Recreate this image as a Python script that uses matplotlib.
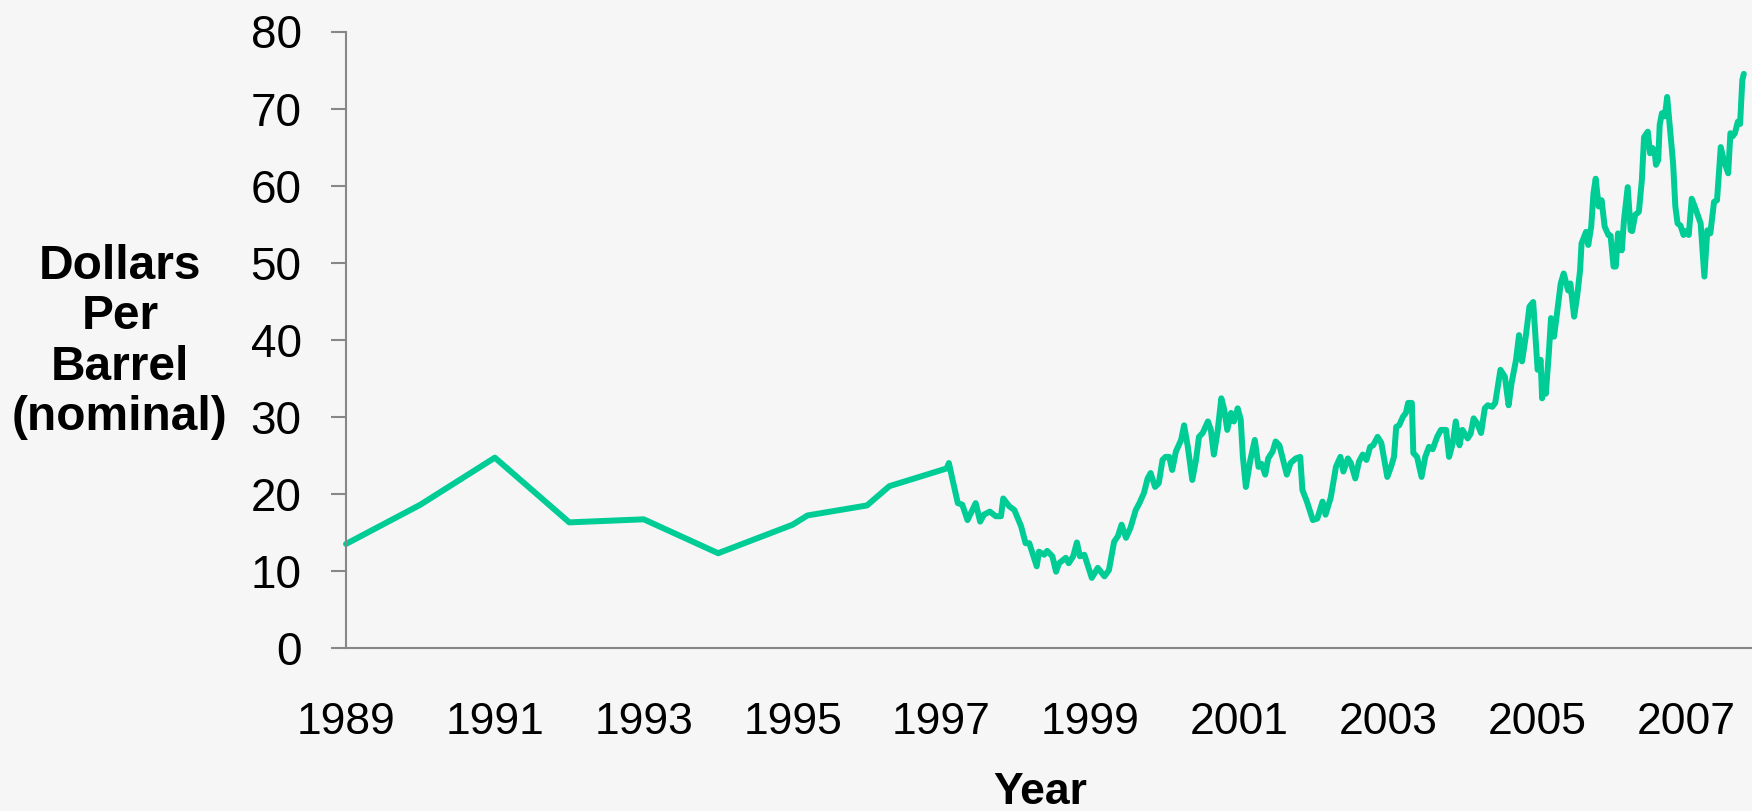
import matplotlib
matplotlib.use("Agg")
import matplotlib.pyplot as plt

# yearly points 1989-1996, then roughly weekly readings from 1997
annual_years = [1989.0, 1990.0, 1991.0, 1992.0, 1993.0, 1994.0, 1995.0, 1995.2, 1996.0, 1996.3]
annual_price = [13.5, 18.6, 24.7, 16.3, 16.7, 12.3, 16.0, 17.2, 18.5, 21.0]

weekly_years = [
    1997.07, 1997.10, 1997.15, 1997.22, 1997.28, 1997.35, 1997.46, 1997.52, 1997.57, 1997.65,
    1997.73, 1997.80, 1997.83, 1997.91, 1997.98, 1998.07, 1998.13, 1998.18, 1998.28, 1998.31,
    1998.38, 1998.42, 1998.49, 1998.54, 1998.58, 1998.67, 1998.71, 1998.77, 1998.82, 1998.86,
    1998.92, 1998.97, 1999.02, 1999.10, 1999.19, 1999.25, 1999.32, 1999.37, 1999.42, 1999.48,
    1999.54, 1999.61, 1999.66, 1999.72, 1999.77, 1999.81, 1999.87, 1999.92, 1999.97, 2000.01,
    2000.06, 2000.10, 2000.15, 2000.22, 2000.26, 2000.31, 2000.37, 2000.42, 2000.46, 2000.51,
    2000.58, 2000.62, 2000.66, 2000.71, 2000.76, 2000.80, 2000.84, 2000.89, 2000.93, 2000.98,
    2001.02, 2001.05, 2001.09, 2001.15, 2001.21, 2001.26, 2001.30, 2001.35, 2001.39, 2001.45,
    2001.49, 2001.54, 2001.60, 2001.64, 2001.69, 2001.76, 2001.82, 2001.85, 2001.91, 2001.99,
    2002.05, 2002.12, 2002.16, 2002.23, 2002.30, 2002.36, 2002.40, 2002.46, 2002.50, 2002.56,
    2002.61, 2002.66, 2002.71, 2002.76, 2002.80, 2002.86, 2002.91, 2002.99, 2003.04, 2003.08,
    2003.11, 2003.15, 2003.20, 2003.24, 2003.27, 2003.32, 2003.34, 2003.39, 2003.42, 2003.45,
    2003.50, 2003.55, 2003.60, 2003.66, 2003.71, 2003.78, 2003.82, 2003.87, 2003.91, 2003.96,
    2004.00, 2004.07, 2004.11, 2004.15, 2004.20, 2004.25, 2004.30, 2004.34, 2004.40, 2004.44,
    2004.51, 2004.57, 2004.62, 2004.66, 2004.72, 2004.76, 2004.80, 2004.85, 2004.90, 2004.95,
    2004.98, 2005.01, 2005.05, 2005.07, 2005.09, 2005.12, 2005.16, 2005.19, 2005.23, 2005.27,
    2005.32, 2005.36, 2005.42, 2005.45, 2005.50, 2005.54, 2005.58, 2005.60, 2005.66, 2005.69,
    2005.73, 2005.76, 2005.79, 2005.83, 2005.87, 2005.91, 2005.96, 2005.99, 2006.03, 2006.06,
    2006.09, 2006.14, 2006.17, 2006.22, 2006.26, 2006.28, 2006.32, 2006.37, 2006.41, 2006.44,
    2006.49, 2006.52, 2006.55, 2006.58, 2006.60, 2006.63, 2006.65, 2006.68, 2006.72, 2006.75,
    2006.78, 2006.83, 2006.86, 2006.89, 2006.93, 2006.97, 2007.00, 2007.04, 2007.08, 2007.12,
    2007.20, 2007.25, 2007.29, 2007.33, 2007.38, 2007.42, 2007.47, 2007.51, 2007.57, 2007.60,
    2007.63, 2007.66, 2007.70, 2007.73, 2007.76, 2007.78,
]
weekly_price = [
    23.3, 24.0, 21.8, 18.8, 18.6, 16.6, 18.8, 16.4, 17.3, 17.7,
    17.1, 17.1, 19.4, 18.4, 17.9, 15.8, 13.6, 13.6, 10.6, 12.5,
    12.1, 12.6, 11.9, 9.9, 11.0, 11.7, 11.0, 11.9, 13.7, 11.9,
    12.1, 10.6, 9.1, 10.4, 9.3, 10.1, 13.8, 14.5, 16.0, 14.3,
    15.6, 17.9, 18.8, 20.1, 22.0, 22.7, 20.9, 21.4, 24.4, 24.8,
    24.8, 23.1, 25.5, 27.0, 28.9, 26.1, 21.8, 24.4, 27.4, 27.9,
    29.4, 28.3, 25.1, 28.1, 32.4, 30.9, 28.3, 30.5, 29.4, 31.1,
    29.7, 24.8, 20.9, 24.4, 27.0, 23.5, 23.9, 22.5, 24.6, 25.5,
    26.8, 26.3, 24.0, 22.5, 24.0, 24.6, 24.8, 20.5, 19.0, 16.6,
    16.8, 19.0, 17.3, 19.5, 23.5, 24.8, 22.9, 24.6, 24.0, 22.0,
    24.2, 25.1, 24.4, 26.1, 26.3, 27.4, 26.6, 22.2, 23.5, 24.8,
    28.7, 28.9, 30.0, 30.5, 31.8, 31.8, 25.3, 24.8, 23.5, 22.2,
    24.8, 26.1, 25.8, 27.4, 28.3, 28.3, 24.8, 26.6, 29.4, 26.3,
    28.3, 27.2, 27.8, 29.8, 29.1, 27.9, 31.1, 31.5, 31.3, 31.8,
    36.1, 35.2, 31.5, 34.4, 37.4, 40.6, 37.2, 40.4, 44.3, 44.9,
    40.4, 36.1, 37.4, 32.4, 35.2, 33.0, 38.2, 42.8, 40.4, 43.4,
    47.3, 48.6, 46.4, 47.3, 43.0, 45.6, 49.0, 52.5, 54.0, 52.3,
    54.7, 59.0, 60.9, 57.3, 58.1, 54.7, 53.6, 53.5, 49.5, 49.5,
    53.8, 51.6, 55.5, 59.8, 54.2, 54.1, 56.2, 56.6, 60.7, 66.3,
    67.0, 64.2, 64.9, 64.6, 62.7, 63.3, 67.9, 69.4, 69.0, 71.5,
    68.3, 62.9, 57.3, 55.1, 54.8, 53.6, 54.1, 53.6, 58.3, 57.3,
    55.1, 48.2, 54.2, 53.8, 57.9, 58.1, 65.0, 63.3, 61.6, 66.8,
    66.4, 66.8, 68.3, 68.0, 73.7, 74.5,
]

x_ticks = list(range(1989, 2008, 2))
y_ticks = list(range(0, 81, 10))

plt.rcParams['font.family'] = ['Liberation Sans', 'DejaVu Sans']

fig = plt.figure(figsize=(17.52, 8.11), dpi=100, facecolor='#f6f6f6')
ax = fig.add_axes([346 / 1752, 1 - 648 / 811, 1 - 346 / 1752, (648 - 31.5) / 811])
ax.patch.set_alpha(0)

ax.plot(annual_years + weekly_years, annual_price + weekly_price,
        color='#00cc96', lw=4.3, solid_joinstyle='round', solid_capstyle='round', clip_on=False)

ax.set_xlim(1989, 2007.89)
ax.set_ylim(0, 80)
ax.set_xticks(x_ticks)
ax.set_yticks(y_ticks)
ax.set_xticklabels([str(y) for y in x_ticks])

for s in ['top', 'right']:
    ax.spines[s].set_visible(False)
for s in ['left', 'bottom']:
    ax.spines[s].set_color('#878787')
    ax.spines[s].set_linewidth(1.5)

# excel-like axis: grey ticks on y only, no ticks on the year axis
ax.tick_params(axis='y', length=11, width=1.5, color='#878787', pad=21, labelsize=33, labelcolor='black')
ax.tick_params(axis='x', length=0, pad=39, labelsize=32, labelcolor='black')

fig.text(120 / 1752, 1 - 342 / 811, 'Dollars\nPer\nBarrel\n(nominal)', fontsize=34.5, fontweight='bold',
         ha='center', va='center', multialignment='center', linespacing=1.15)
fig.text(1040 / 1752, 1 - 792 / 811, 'Year', fontsize=32, fontweight='bold', ha='center', va='center')

fig.savefig('out.png', dpi=100, facecolor=fig.get_facecolor())
